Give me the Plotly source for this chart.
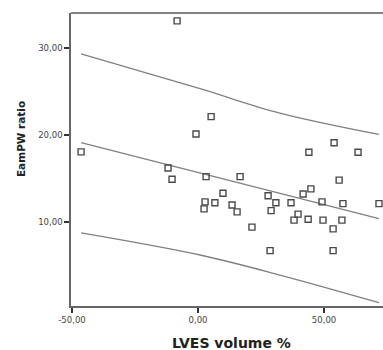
import plotly.graph_objects as go

# Scatter data (LVES volume %, EamPW ratio)
lves = [-8.3, -46.4, -0.8, 5.2, -11.9, -10.3, 3.2, 16.7, 9.9, 2.8, 6.7, 2.4,
        13.5, 15.5, 21.4, 27.8, 29.0, 28.6, 30.9, 36.9, 41.7, 44.8, 39.7, 38.1,
        43.7, 44.0, 54.0, 63.5, 56.0, 49.2, 49.6, 53.6, 57.5, 57.1, 71.8, 53.6]
eampw = [33.1, 18.05, 20.1, 22.1, 16.2, 14.9, 15.2, 15.2, 13.3, 12.3, 12.2, 11.5,
         11.95, 11.15, 9.4, 13.0, 11.3, 6.7, 12.2, 12.2, 13.2, 13.8, 10.9, 10.2,
         10.3, 18.0, 19.1, 18.0, 14.8, 12.3, 10.2, 9.2, 12.1, 10.2, 12.1, 6.7]

# Fit line and prediction band
line_x = [-46.4, 0.8, 32.5, 71.8]
fit_y = [19.1, 15.62, 13.28, 10.37]
upper_y = [29.3, 25.3, 22.5, 20.05]
lower_y = [8.74, 6.2, 3.9, 0.73]

x_tickvals = [-50, 0, 50]
x_ticktext = ["-50,00", "0,00", "50,00"]
y_tickvals = [10, 20, 30]
y_ticktext = ["10,00", "20,00", "30,00"]

x_title = "LVES volume %"
y_title = "EamPW ratio"

line_col = "#808080"
fig = go.Figure()
for ys, shape in [(upper_y, "spline"), (fit_y, "linear"), (lower_y, "spline")]:
    fig.add_trace(go.Scatter(x=line_x, y=ys, mode="lines",
                             line=dict(color=line_col, width=1.3, shape=shape),
                             hoverinfo="skip", showlegend=False))
fig.add_trace(go.Scatter(x=lves, y=eampw, mode="markers",
                         marker=dict(symbol="square-open", size=6,
                                     color="#4a4a4a", line=dict(width=1.4, color="#4a4a4a")),
                         showlegend=False))

axis_common = dict(showgrid=False, zeroline=False, ticks="outside", ticklen=5,
                   tickwidth=1.5, tickcolor="#333", showline=True, linecolor="#666",
                   linewidth=1.5,
                   tickfont=dict(family="DejaVu Sans", size=8.5, color="#444"))
fig.update_xaxes(range=[-50.4, 73.4], tickvals=x_tickvals, ticktext=x_ticktext,
                 **axis_common)
fig.update_yaxes(range=[0.34, 34.0], tickvals=y_tickvals, ticktext=y_ticktext,
                 **axis_common)

fig.add_shape(type="line", xref="paper", yref="paper", x0=0, x1=1, y0=1, y1=1,
              line=dict(color="#808080", width=2))

fig.add_annotation(text=x_title, xref="paper", yref="paper", x=0.516, y=-0.126,
                   showarrow=False, xanchor="center", yanchor="middle",
                   font=dict(family="DejaVu Sans", size=14, color="#222", weight="bold"))
fig.add_annotation(text=y_title, xref="paper", yref="paper", x=-0.16, y=0.57,
                   showarrow=False, xanchor="center", yanchor="middle", textangle=-90,
                   font=dict(family="DejaVu Sans", size=10.5, color="#222", weight="bold"))

fig.update_layout(width=383, height=350, margin=dict(l=71, r=0, t=13, b=44),
                  plot_bgcolor="white", paper_bgcolor="white")
fig.write_html("out.html")
